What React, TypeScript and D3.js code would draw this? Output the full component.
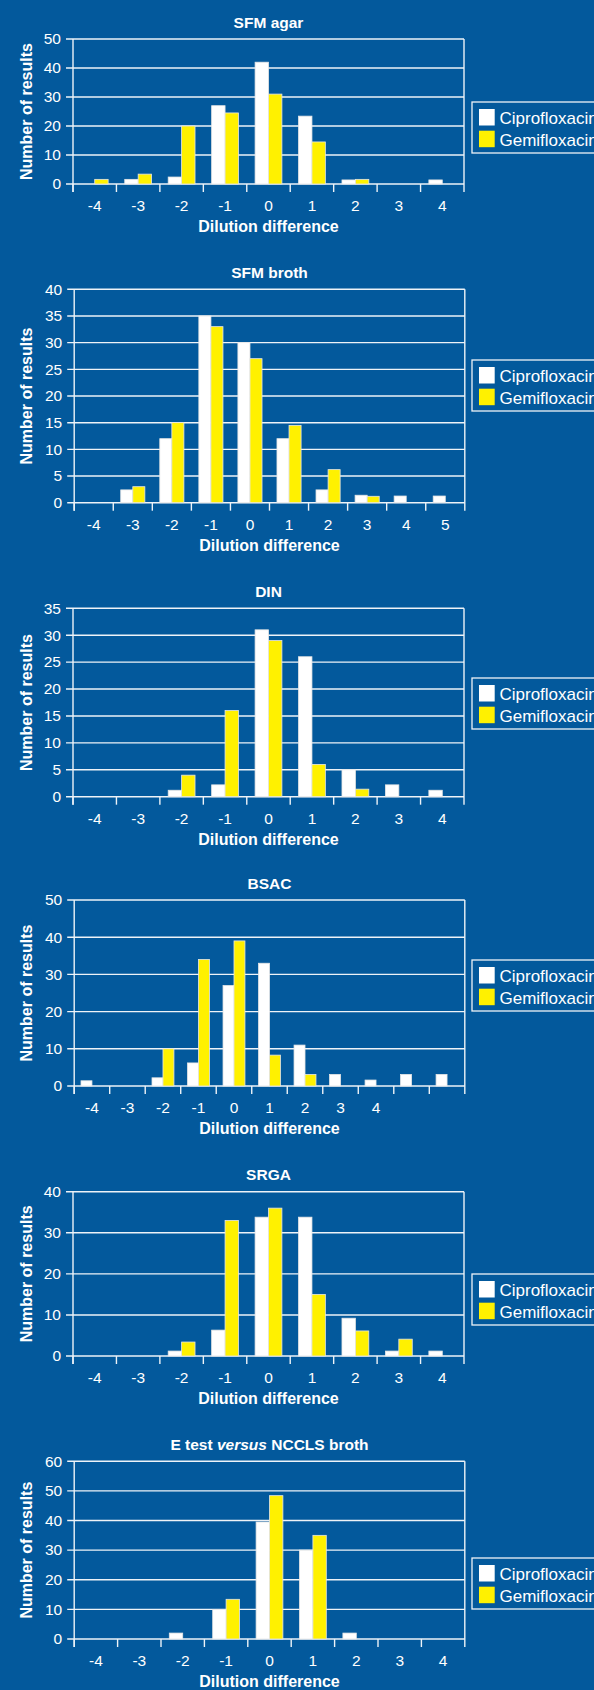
import React, { useEffect, useRef } from 'react';
import * as d3 from 'd3';

const WIDTH = 594;
const HEIGHT = 1690;
const BG = '#03599c';
const YELLOW = '#fff100';
const LINE = '#eef3f8';
const FONT = '"Liberation Sans", Arial, Helvetica, sans-serif';

const seriesNames = ['Ciprofloxacin', 'Gemifloxacin'];
const seriesColors = ['#ffffff', YELLOW];

// SFM agar
const sfmAgarLabels = ['-4', '-3', '-2', '-1', '0', '1', '2', '3', '4'];
const sfmAgarCipro = [0, 1.6, 2.4, 27, 42, 23.4, 1.4, 0, 1.4];
const sfmAgarGemi = [1.6, 3.4, 20, 24.5, 31, 14.5, 1.6, 0, 0];
const sfmAgarTicks = [0, 10, 20, 30, 40, 50];

// SFM broth
const sfmBrothLabels = ['-4', '-3', '-2', '-1', '0', '1', '2', '3', '4', '5'];
const sfmBrothCipro = [0, 2.4, 12, 35, 30, 12, 2.4, 1.4, 1.25, 1.25];
const sfmBrothGemi = [0, 3, 15, 33, 27, 14.5, 6.2, 1.2, 0, 0];
const sfmBrothTicks = [0, 5, 10, 15, 20, 25, 30, 35, 40];

// DIN
const dinLabels = ['-4', '-3', '-2', '-1', '0', '1', '2', '3', '4'];
const dinCipro = [0, 0, 1.2, 2.2, 31, 26, 5, 2.2, 1.2];
const dinGemi = [0, 0, 4, 16, 29, 6, 1.4, 0, 0];
const dinTicks = [0, 5, 10, 15, 20, 25, 30, 35];

// BSAC (last two categories have no label)
const bsacLabels = ['-4', '-3', '-2', '-1', '0', '1', '2', '3', '4', '', ''];
const bsacCipro = [1.4, 0, 2.2, 6.2, 27, 33, 11, 3.1, 1.6, 3.1, 3.1];
const bsacGemi = [0, 0, 10, 34, 39, 8.3, 3.1, 0, 0, 0, 0];
const bsacTicks = [0, 10, 20, 30, 40, 50];

// SRGA
const srgaLabels = ['-4', '-3', '-2', '-1', '0', '1', '2', '3', '4'];
const srgaCipro = [0, 0, 1.2, 6.3, 33.8, 33.8, 9.2, 1.2, 1.2];
const srgaGemi = [0, 0, 3.4, 33, 36, 15, 6.1, 4.1, 0];
const srgaTicks = [0, 10, 20, 30, 40];

// E test versus NCCLS broth
const etestLabels = ['-4', '-3', '-2', '-1', '0', '1', '2', '3', '4'];
const etestCipro = [0, 0, 2, 10, 39.5, 30, 2, 0, 0];
const etestGemi = [0, 0, 0, 13.4, 48.4, 35, 0, 0, 0];
const etestTicks = [0, 10, 20, 30, 40, 50, 60];

const panels = [
  { title: ['SFM agar'], labels: sfmAgarLabels, values: [sfmAgarCipro, sfmAgarGemi], ticks: sfmAgarTicks },
  { title: ['SFM broth'], labels: sfmBrothLabels, values: [sfmBrothCipro, sfmBrothGemi], ticks: sfmBrothTicks },
  { title: ['DIN'], labels: dinLabels, values: [dinCipro, dinGemi], ticks: dinTicks },
  { title: ['BSAC'], labels: bsacLabels, values: [bsacCipro, bsacGemi], ticks: bsacTicks },
  { title: ['SRGA'], labels: srgaLabels, values: [srgaCipro, srgaGemi], ticks: srgaTicks },
  { title: ['E test ', 'versus', ' NCCLS broth'], labels: etestLabels, values: [etestCipro, etestGemi], ticks: etestTicks },
];

// plot boxes in page pixels
const layouts = [
  { top: 39, bottom: 184, left: 73, right: 464, legendTop: 102 },
  { top: 289.3, bottom: 502.7, left: 74.2, right: 464.8, legendTop: 360 },
  { top: 608.3, bottom: 796.7, left: 73, right: 464, legendTop: 678 },
  { top: 900, bottom: 1086, left: 74.2, right: 464.8, legendTop: 960 },
  { top: 1191.7, bottom: 1356, left: 73, right: 464, legendTop: 1274 },
  { top: 1461.3, bottom: 1639, left: 74.2, right: 464.8, legendTop: 1558 },
];

function App() {
  const svgRef = useRef<SVGSVGElement>(null);

  useEffect(() => {
    const svg = d3.select(svgRef.current);
    svg.selectAll('*').remove();

    svg.append('rect').attr('width', WIDTH).attr('height', HEIGHT).attr('fill', BG);

    panels.forEach((p, i) => {
      const lay = layouts[i];
      const g = svg.append('g').style('font-family', FONT);
      const keys = p.labels.map((_, j) => String(j));

      const x = d3.scaleBand().domain(keys).range([lay.left, lay.right]);
      const xInner = d3.scaleBand()
        .domain(seriesNames)
        .range([0, x.bandwidth()])
        .paddingOuter(0.62);
      const y = d3.scaleLinear()
        .domain([0, p.ticks[p.ticks.length - 1]])
        .range([lay.bottom, lay.top]);

      // gridlines + y ticks
      p.ticks.forEach(t => {
        g.append('line')
          .attr('x1', lay.left - 7).attr('x2', lay.right)
          .attr('y1', y(t)).attr('y2', y(t))
          .attr('stroke', LINE).attr('stroke-width', 1.4);
        g.append('text')
          .attr('x', lay.left - 12)
          .attr('y', y(t) + 5.3)
          .attr('text-anchor', 'end')
          .attr('fill', '#fff')
          .style('font-size', '15.5px')
          .text(t);
      });

      // left axis & right border
      g.append('line')
        .attr('x1', lay.left).attr('x2', lay.left)
        .attr('y1', lay.top).attr('y2', lay.bottom + 8)
        .attr('stroke', LINE).attr('stroke-width', 1.4);
      g.append('line')
        .attr('x1', lay.right).attr('x2', lay.right)
        .attr('y1', lay.top).attr('y2', lay.bottom + 8)
        .attr('stroke', LINE).attr('stroke-width', 1.4);

      // x ticks at band edges
      keys.forEach(k => {
        const xx = x(k)!;
        g.append('line')
          .attr('x1', xx).attr('x2', xx)
          .attr('y1', lay.bottom).attr('y2', lay.bottom + 8)
          .attr('stroke', LINE).attr('stroke-width', 1.4);
      });

      // bars
      p.values.forEach((vals, s) => {
        g.selectAll(null)
          .data(vals.map((v, j) => ({ v, k: keys[j] })).filter(d => d.v > 0))
          .enter().append('rect')
          .attr('x', d => x(d.k)! + xInner(seriesNames[s])!)
          .attr('width', xInner.bandwidth())
          .attr('y', d => y(d.v))
          .attr('height', d => lay.bottom - y(d.v))
          .attr('fill', seriesColors[s])
          .attr('stroke', '#e6e6e6')
          .attr('stroke-width', 0.8);
      });

      // x tick labels
      p.labels.forEach((lab, j) => {
        g.append('text')
          .attr('x', x(keys[j])! + x.bandwidth() / 2)
          .attr('y', lay.bottom + 27)
          .attr('text-anchor', 'middle')
          .attr('fill', '#fff')
          .style('font-size', '15.5px')
          .text(lab);
      });

      const cx = (lay.left + lay.right) / 2;

      // title
      const title = g.append('text')
        .attr('x', cx)
        .attr('y', lay.top - 11.5)
        .attr('text-anchor', 'middle')
        .attr('fill', '#fff')
        .style('font-size', '15.5px')
        .style('font-weight', 'bold');
      p.title.forEach(part => {
        title.append('tspan')
          .style('font-style', part === 'versus' ? 'italic' : 'normal')
          .text(part);
      });

      // axis titles
      g.append('text')
        .attr('x', cx)
        .attr('y', lay.bottom + 48)
        .attr('text-anchor', 'middle')
        .attr('fill', '#fff')
        .style('font-size', '16px')
        .style('font-weight', 'bold')
        .text('Dilution difference');

      g.append('text')
        .attr('transform', `translate(31.6,${(lay.top + lay.bottom) / 2}) rotate(-90)`)
        .attr('text-anchor', 'middle')
        .attr('fill', '#fff')
        .style('font-size', '16px')
        .style('font-weight', 'bold')
        .text('Number of results');

      // legend
      const lg = g.append('g').attr('transform', `translate(472,${lay.legendTop})`);
      lg.append('rect')
        .attr('width', 140).attr('height', 51)
        .attr('fill', 'none')
        .attr('stroke', LINE).attr('stroke-width', 1.3);
      seriesNames.forEach((name, s) => {
        lg.append('rect')
          .attr('x', 7).attr('y', 7 + s * 21.7)
          .attr('width', 15.7).attr('height', 16.5)
          .attr('fill', seriesColors[s]);
        lg.append('text')
          .attr('x', 27.5).attr('y', 22 + s * 22)
          .attr('fill', '#fff')
          .style('font-size', '17px')
          .text(name);
      });
    });
  }, []);

  return (
    <div style={{ position: 'absolute', left: 0, top: 0 }}>
      <svg ref={svgRef} width={WIDTH} height={HEIGHT} style={{ display: 'block' }} />
    </div>
  );
}

export default App;
